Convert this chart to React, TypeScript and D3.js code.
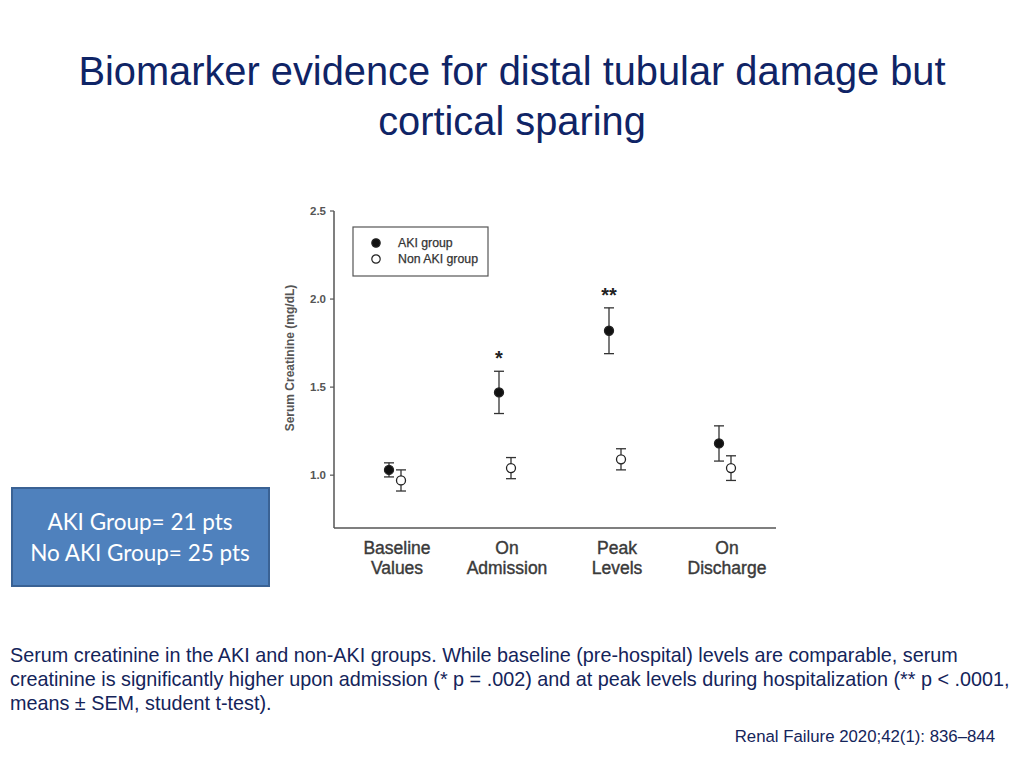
import React from 'react';
import * as d3 from 'd3';

// chart data
const categories = ['Baseline Values', 'On Admission', 'Peak Levels', 'On Discharge'];
const categoryLines = [['Baseline', 'Values'], ['On', 'Admission'], ['Peak', 'Levels'], ['On', 'Discharge']];
const akiMean = [1.03, 1.47, 1.82, 1.18];
const akiSem = [0.04, 0.12, 0.13, 0.1];
const nonAkiMean = [0.97, 1.04, 1.09, 1.04];
const nonAkiSem = [0.06, 0.06, 0.06, 0.07];
const significance = ['', '*', '**', ''];
const yTicks = [1.0, 1.5, 2.0, 2.5];

const titleLines = ['Biomarker evidence for distal tubular damage but', 'cortical sparing'];
const captionLines = [
  'Serum creatinine in the AKI and non-AKI groups. While baseline (pre-hospital) levels are comparable, serum',
  'creatinine is significantly higher upon admission (* p = .002) and at peak levels during hospitalization (** p < .0001,',
  'means \u00b1 SEM, student t-test).',
];

const App = () => {
  const width = 1024;
  const height = 768;

  // plot frame
  const left = 334;
  const right = 776;
  const top = 211;
  const bottom = 528;

  const x = d3.scalePoint().domain(categories).range([340, 780]).padding(0.5);
  const y = d3.scaleLinear().domain([0.7, 2.5]).range([bottom, top]);
  const offset = 6;
  const axisColor = '#555';
  const capW = 5;

  const series = [
    { name: 'AKI group', mean: akiMean, sem: akiSem, dx: -offset, fill: '#111' },
    { name: 'Non AKI group', mean: nonAkiMean, sem: nonAkiSem, dx: offset, fill: '#fff' },
  ];

  return (
    <svg width={width} height={height} style={{ position: 'absolute', left: 0, top: 0, background: '#fff' }}
      fontFamily="'Liberation Sans', Arial, sans-serif">
      {/* title */}
      {titleLines.map((t, i) => (
        <text key={t} x={512} y={85 + i * 50} textAnchor="middle" fontSize={39.8} fill="#0f2466">{t}</text>
      ))}

      {/* axes */}
      <line x1={left} x2={left} y1={top} y2={bottom} stroke={axisColor} strokeWidth={1.5} />
      <line x1={left} x2={right} y1={bottom} y2={bottom} stroke={axisColor} strokeWidth={1.5} />
      {yTicks.map(t => (
        <g key={t} transform={`translate(${left},${y(t)})`}>
          <line x1={-4} x2={0} stroke={axisColor} strokeWidth={1.2} />
          <text x={-8} dy="0.35em" textAnchor="end" fontSize={11.5} fontWeight="bold" fill="#555">{t.toFixed(1)}</text>
        </g>
      ))}
      <text transform={`translate(294,${358}) rotate(-90)`} textAnchor="middle" fontSize={12} fontWeight="bold" fill="#555">
        Serum Creatinine (mg/dL)
      </text>

      {/* category labels */}
      {categories.map((c, i) => (
        <text key={c} x={(x(c) ?? 0) + 2} y={554} textAnchor="middle" fontSize={17.5} fill="#3a3a3a"
          stroke="#3a3a3a" strokeWidth={0.4}>
          {categoryLines[i].map((l, j) => (
            <tspan key={l} x={(x(c) ?? 0) + 2} dy={j === 0 ? 0 : 20}>{l}</tspan>
          ))}
        </text>
      ))}

      {/* error bars and points */}
      {series.map(s => (
        <g key={s.name}>
          {categories.map((c, i) => {
            const cx = (x(c) ?? 0) + s.dx;
            const hi = y(s.mean[i] + s.sem[i]);
            const lo = y(s.mean[i] - s.sem[i]);
            return (
              <g key={c}>
                <line x1={cx} x2={cx} y1={hi} y2={lo} stroke="#333" strokeWidth={1.3} />
                <line x1={cx - capW} x2={cx + capW} y1={hi} y2={hi} stroke="#333" strokeWidth={1.3} />
                <line x1={cx - capW} x2={cx + capW} y1={lo} y2={lo} stroke="#333" strokeWidth={1.3} />
                <circle cx={cx} cy={y(s.mean[i])} r={4.5} fill={s.fill} stroke="#222" strokeWidth={1.3} />
              </g>
            );
          })}
        </g>
      ))}

      {/* significance markers */}
      {categories.map((c, i) => significance[i] ? (
        <text key={c} x={(x(c) ?? 0) - offset} y={y(akiMean[i] + akiSem[i]) - 6} textAnchor="middle"
          fontSize={20} fontWeight="bold" fill="#222">{significance[i]}</text>
      ) : null)}

      {/* legend */}
      <g transform="translate(353,227)">
        <rect width={135} height={49} fill="#fff" stroke="#555" strokeWidth={1.2} />
        {series.map((s, i) => (
          <g key={s.name} transform={`translate(23,${16 + i * 16})`}>
            <circle r={4.2} fill={s.fill} stroke="#222" strokeWidth={1.2} />
            <text x={22} dy="0.35em" fontSize={12.3} fill="#333" stroke="#333" strokeWidth={0.25}>{s.name}</text>
          </g>
        ))}
      </g>

      {/* count box */}
      <g transform="translate(12,488)">
        <rect width={257} height={98} fill="#4f81bd" stroke="#3a6294" strokeWidth={2} />
        <text x={128} y={42} textAnchor="middle" fontSize={22.5} fill="#fff" fontFamily="Lato, 'Open Sans', sans-serif">AKI Group= 21 pts</text>
        <text x={128} y={73} textAnchor="middle" fontSize={22.5} fill="#fff" fontFamily="Lato, 'Open Sans', sans-serif">No AKI Group= 25 pts</text>
      </g>

      {/* caption */}
      {captionLines.map((t, i) => (
        <text key={i} x={10} y={662 + i * 24} fontSize={19.8} fill="#14245a">{t}</text>
      ))}
      <text x={995} y={742} textAnchor="end" fontSize={16.8} fill="#14245a">Renal Failure 2020;42(1): 836{'\u2013'}844</text>
    </svg>
  );
};

export default App;
